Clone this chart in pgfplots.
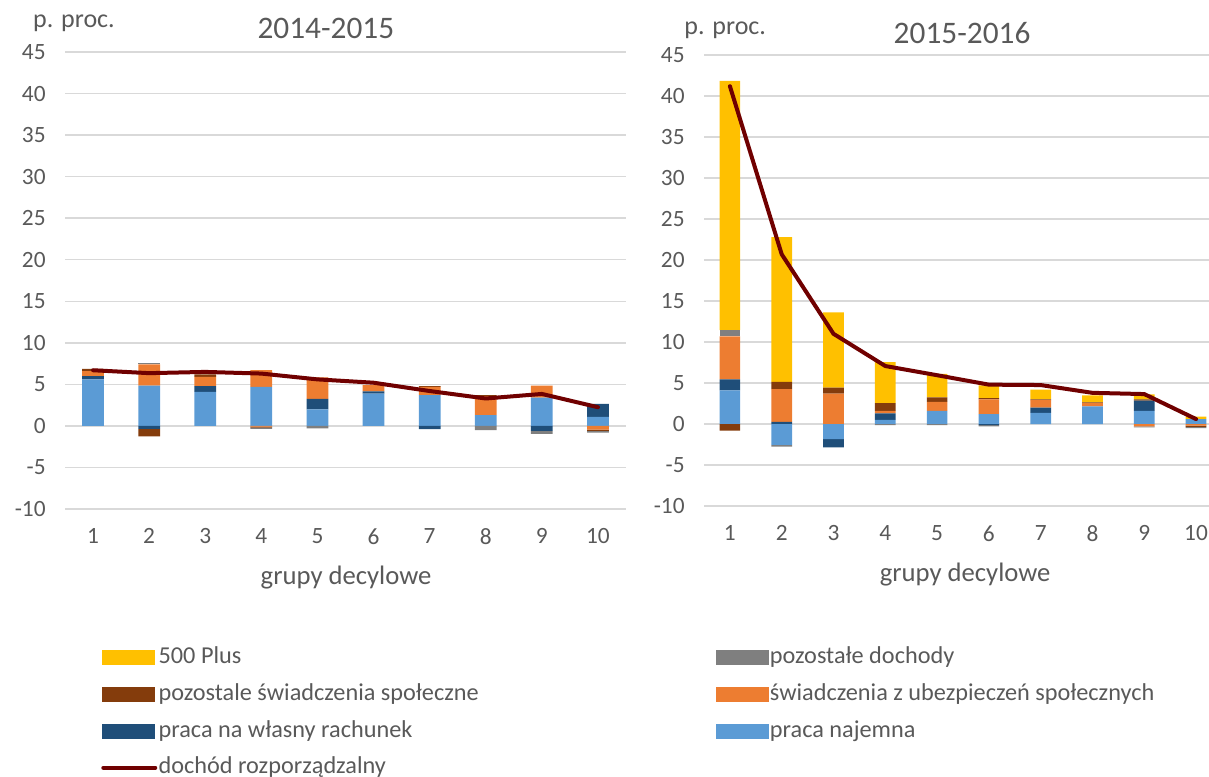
\documentclass[border=0pt]{standalone}
\usepackage{fontspec}
\setmainfont{Carlito}
\usepackage{pgfplots}
\pgfplotsset{compat=1.18}
\usepackage{pgfplotstable}

\definecolor{cPlus}{HTML}{FFC000}
\definecolor{cGray}{HTML}{7F7F7F}
\definecolor{cBrown}{HTML}{843C0C}
\definecolor{cOrange}{HTML}{ED7D31}
\definecolor{cNavy}{HTML}{1F4E79}
\definecolor{cBlue}{HTML}{5B9BD5}
\definecolor{cLine}{HTML}{700000}
\definecolor{cText}{HTML}{595959}
\definecolor{cGrid}{HTML}{D9D9D9}

% 2014-2015, positive parts
\pgfplotstableread{
x naj wl ub ps pd plus
1 5.6 0.4 0.6 0.25 0 0
2 4.84 0 2.56 0 0.15 0
3 4.1 0.7 1.1 0.3 0 0
4 4.7 0 2.0 0 0 0
5 2.0 1.25 2.6 0 0 0
6 3.9 0.25 0.75 0 0 0
7 3.7 0 1.0 0.1 0 0
8 1.3 0 2.3 0.1 0 0
9 3.4 0 1.45 0 0 0
10 1.1 1.55 0 0 0 0
}\posA
% 2014-2015, negative parts
\pgfplotstableread{
x naj wl ub ps pd
1 0 0 0 0 0
2 0 -0.35 0 -0.9 0
3 0 0 0 0 0
4 0 0 -0.1 -0.1 -0.15
5 0 0 0 0 -0.3
6 0 0 0 0 0
7 0 -0.4 0 0 0
8 0 0 0 0 -0.5
9 0 -0.6 0 0 -0.35
10 0 0 -0.45 -0.15 -0.2
}\negA
\pgfplotstableread{
x d
1 6.7
2 6.35
3 6.5
4 6.3
5 5.6
6 5.2
7 4.2
8 3.3
9 3.85
10 2.25
}\lineA
% 2015-2016, positive parts
\pgfplotstableread{
x naj wl ub ps pd plus
1 4.1 1.35 5.25 0 0.75 30.4
2 0 0.25 4.0 0.9 0 17.65
3 0 0 3.7 0.75 0 9.15
4 0.5 0.8 0.3 0.95 0 5.0
5 1.6 0 1.1 0.55 0 2.85
6 1.2 0 1.8 0.15 0 1.55
7 1.35 0.65 0.9 0.1 0 1.2
8 2.15 0 0.4 0.1 0 0.85
9 1.6 1.25 0 0.15 0 0.6
10 0.6 0 0 0 0 0.3
}\posB
% 2015-2016, negative parts
\pgfplotstableread{
x naj wl ub ps pd
1 0 0 0 -0.8 0
2 -2.55 0 0 0 -0.2
3 -1.85 -1.0 0 0 0
4 0 0 0 0 -0.15
5 0 0 0 0 -0.15
6 0 -0.15 0 0 -0.15
7 0 0 0 0 0
8 0 0 0 0 0
9 0 0 -0.3 0 -0.1
10 0 0 -0.2 -0.15 -0.15
}\negB
\pgfplotstableread{
x d
1 41.2
2 20.7
3 11.0
4 7.07
5 5.95
6 4.8
7 4.75
8 3.8
9 3.65
10 0.6
}\lineB

\pgfplotsset{
  common/.style={
    scale only axis, ymin=-10, ymax=45, xmin=0.5,
    axis line style={draw=none}, major tick length=0pt,
    xtick={1,...,10}, ytick={-10,-5,...,45},
    tick label style={font=\fontsize{17.5}{20}\selectfont, color=cText},
    xticklabel style={yshift=-11pt},
    yticklabel style={xshift=-11pt},
    /pgf/number format/assume math mode=true,
  },
  leftpos/.style={at={(48.75pt,-381.75pt)}, anchor=south west,
    width=420.75pt, height=342.75pt, xmax=10.5},
  rightpos/.style={at={(528pt,-379.5pt)}, anchor=south west,
    width=378.75pt, height=338.25pt, xmax=10.25},
  bars/.style={ybar stacked},
}

\begin{document}
\begin{tikzpicture}
%================ LEFT: 2014-2015 =================
\begin{axis}[common, leftpos, bars, bar width=16.3pt,
  ymajorgrids, grid style={cGrid, line width=1.1pt},
  title={2014-2015}, xlabel={grupy decylowe}, ylabel={p. proc.},
  every axis title/.style={at={(axis description cs:0.465,1.0525)}, anchor=center,
    font=\fontsize{23.5}{27}\selectfont, color=cText},
  every axis x label/.style={at={(axis description cs:0.501,-0.151)}, anchor=center,
    font=\fontsize{20}{24}\selectfont, color=cText},
  every axis y label/.style={at={(axis description cs:0.016,1.063)}, anchor=center,
    font=\fontsize{19.5}{23}\selectfont, color=cText},
]
\addplot[fill=cBlue, draw=none] table[x=x,y=naj]{\posA};
\addplot[fill=cNavy, draw=none] table[x=x,y=wl]{\posA};
\addplot[fill=cOrange, draw=none] table[x=x,y=ub]{\posA};
\addplot[fill=cBrown, draw=none] table[x=x,y=ps]{\posA};
\addplot[fill=cGray, draw=none] table[x=x,y=pd]{\posA};
\addplot[fill=cPlus, draw=none] table[x=x,y=plus]{\posA};
\end{axis}
\begin{axis}[common, leftpos, bars, bar width=16.3pt, hide axis]
\addplot[fill=cBlue, draw=none] table[x=x,y=naj]{\negA};
\addplot[fill=cNavy, draw=none] table[x=x,y=wl]{\negA};
\addplot[fill=cOrange, draw=none] table[x=x,y=ub]{\negA};
\addplot[fill=cBrown, draw=none] table[x=x,y=ps]{\negA};
\addplot[fill=cGray, draw=none] table[x=x,y=pd]{\negA};
\end{axis}
\begin{axis}[common, leftpos, hide axis,
  legend columns=2, legend cell align=left,
  legend style={at={(axis description cs:0.0642,-0.300)}, anchor=north west,
    draw=none, fill=none, inner sep=0pt, row sep=10.5pt,
    font=\fontsize{18.2}{21}\selectfont, text=cText,
    nodes={inner sep=0pt, text height=13pt, text depth=4pt},
    /tikz/every even column/.append style={column sep=178pt},
    /tikz/every odd column/.append style={column sep=1pt}},
]
\addplot[cLine, line width=3pt, line join=round, line cap=round, mark=none, forget plot]
  table[x=x,y=d]{\lineA};
\addlegendimage{legend image code/.code={\fill[cPlus] (0pt,-5.25pt) rectangle (39pt,5.25pt);}}
\addlegendentry{500 Plus}
\addlegendimage{legend image code/.code={\fill[cGray] (0pt,-5.25pt) rectangle (39pt,5.25pt);}}
\addlegendentry{pozostałe dochody}
\addlegendimage{legend image code/.code={\fill[cBrown] (0pt,-5.25pt) rectangle (39pt,5.25pt);}}
\addlegendentry{pozostale świadczenia społeczne}
\addlegendimage{legend image code/.code={\fill[cOrange] (0pt,-5.25pt) rectangle (39pt,5.25pt);}}
\addlegendentry{świadczenia z ubezpieczeń społecznych}
\addlegendimage{legend image code/.code={\fill[cNavy] (0pt,-5.25pt) rectangle (39pt,5.25pt);}}
\addlegendentry{praca na własny rachunek}
\addlegendimage{legend image code/.code={\fill[cBlue] (0pt,-5.25pt) rectangle (39pt,5.25pt);}}
\addlegendentry{praca najemna}
\addlegendimage{legend image code/.code={\draw[cLine, line width=3pt, line cap=round] (1pt,0pt) -- (40pt,0pt);}}
\addlegendentry{dochód rozporządzalny}
\end{axis}
%================ RIGHT: 2015-2016 =================
\begin{axis}[common, rightpos, bars, bar width=15.5pt,
  ymajorgrids, grid style={cGrid, line width=1.1pt},
  title={2015-2016}, xlabel={grupy decylowe}, ylabel={p. proc.},
  every axis title/.style={at={(axis description cs:0.511,1.049)}, anchor=center,
    font=\fontsize{23.5}{27}\selectfont, color=cText},
  every axis x label/.style={at={(axis description cs:0.517,-0.153)}, anchor=center,
    font=\fontsize{20}{24}\selectfont, color=cText},
  every axis y label/.style={at={(axis description cs:0.042,1.055)}, anchor=center,
    font=\fontsize{19.5}{23}\selectfont, color=cText},
]
\addplot[fill=cBlue, draw=none] table[x=x,y=naj]{\posB};
\addplot[fill=cNavy, draw=none] table[x=x,y=wl]{\posB};
\addplot[fill=cOrange, draw=none] table[x=x,y=ub]{\posB};
\addplot[fill=cBrown, draw=none] table[x=x,y=ps]{\posB};
\addplot[fill=cGray, draw=none] table[x=x,y=pd]{\posB};
\addplot[fill=cPlus, draw=none] table[x=x,y=plus]{\posB};
\end{axis}
\begin{axis}[common, rightpos, bars, bar width=15.5pt, hide axis]
\addplot[fill=cBlue, draw=none] table[x=x,y=naj]{\negB};
\addplot[fill=cNavy, draw=none] table[x=x,y=wl]{\negB};
\addplot[fill=cOrange, draw=none] table[x=x,y=ub]{\negB};
\addplot[fill=cBrown, draw=none] table[x=x,y=ps]{\negB};
\addplot[fill=cGray, draw=none] table[x=x,y=pd]{\negB};
\end{axis}
\begin{axis}[common, rightpos, hide axis]
\addplot[cLine, line width=3pt, line join=round, line cap=round, mark=none]
  table[x=x,y=d]{\lineB};
\end{axis}
\pgfresetboundingbox
\useasboundingbox (0pt,0pt) rectangle (906.75pt,-582.75pt);
\end{tikzpicture}
\end{document}
